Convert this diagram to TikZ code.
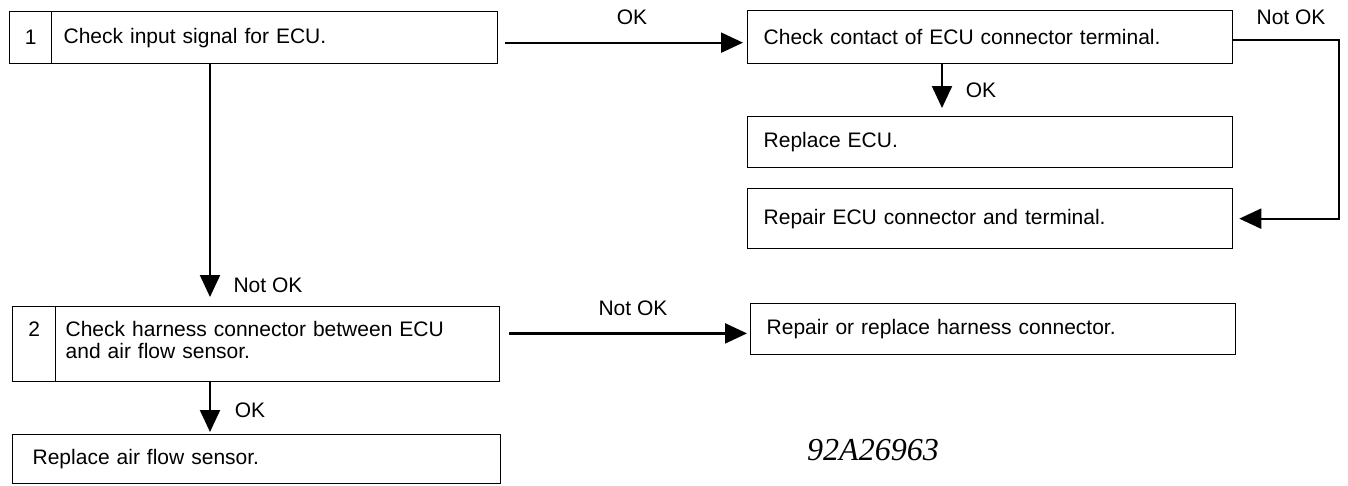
\documentclass[tikz,border=0pt]{standalone}
\usepackage{fontspec}
\setmainfont{Liberation Sans}
\newfontfamily\codefont{Liberation Serif}
\usetikzlibrary{arrows.meta,calc}

\begin{document}
\begin{tikzpicture}[x=1pt,y=-1pt,
  font=\fontsize{21}{22.5}\selectfont,
  box/.style={draw, line width=1.3pt, anchor=north west, inner ysep=0pt, align=left},
  numbox/.style={draw, line width=1.3pt, anchor=north west, inner sep=0pt, align=center},
  arr/.style={line width=2.2pt, -{Triangle[length=22pt,width=20pt]}},
  lbl/.style={inner sep=0pt}]
\useasboundingbox (0,0) rectangle (1348,485);

% step 1
\node[numbox, minimum width=42pt, minimum height=52pt] (n1) at (9,11) {1};
\node[box, minimum height=52pt, text width=422pt, inner xsep=12pt] (b1) at (51,11) {Check input signal for ECU.};

% right-hand branch
\node[box, minimum height=53pt, text width=453pt, inner xsep=16pt] (chk) at (747,10) {Check contact of ECU connector terminal.};
\node[box, minimum height=51pt, text width=453pt, inner xsep=16pt] (repecu) at (747,116) {Replace ECU.};
\node[box, minimum height=60pt, text width=453pt, inner xsep=16pt] (repconn) at (747,188) {Repair ECU connector and terminal.};

% step 2 (first baseline 29.5pt below the top edge)
\node[numbox, minimum width=43pt, text height=29.5pt, text depth=45pt] (n2) at (12,306) {2};
\node[box, text height=29.5pt, text depth=45pt, text width=424pt, inner xsep=10pt] (b2) at (55,306) {Check harness connector between ECU\\and air flow sensor.};
\node[box, minimum height=51pt, text width=453pt, inner xsep=16pt] (harness) at (750,303) {Repair or replace harness connector.};
\node[box, minimum height=49pt, text width=448pt, inner xsep=20pt] (afs) at (12,434) {Replace air flow sensor.};

% connectors
\coordinate (vx) at (210,0);
\coordinate (cx) at (942,0);

\draw[arr, shorten <=7pt, shorten >=4pt] ([yshift=-5pt]b1.east) -- ([yshift=-5pt]b1.east -| chk.west);
\node[lbl] (okA) at (632,17) {OK};

\draw[arr, shorten >=6pt] ([yshift=-3pt]chk.east) -- ++(106,0) |- (repconn.east);
\node[lbl] (ngA) at (1291,17) {Not OK};

\draw[arr, shorten >=8pt] (cx |- chk.south) -- (cx |- repecu.north);
\node[lbl] (okB) at (981,90) {OK};

\draw[arr, shorten >=9pt] (vx |- b1.south) -- (vx |- b2.north);
\node[lbl] (ngB) at (268,285) {Not OK};

\draw[arr, shorten <=9pt, shorten >=3pt] ([yshift=10.5pt]b2.east) -- ([yshift=10.5pt]b2.east -| harness.west);
\node[lbl] (ngC) at (633,308) {Not OK};

\draw[arr, shorten >=2pt] (vx |- b2.south) -- (vx |- afs.north);
\node[lbl] (okC) at (250,410) {OK};

% drawing code
\node[lbl, font=\codefont\itshape\fontsize{32}{32}\selectfont] (code) at (873,450) {92A26963};
\end{tikzpicture}
\end{document}
